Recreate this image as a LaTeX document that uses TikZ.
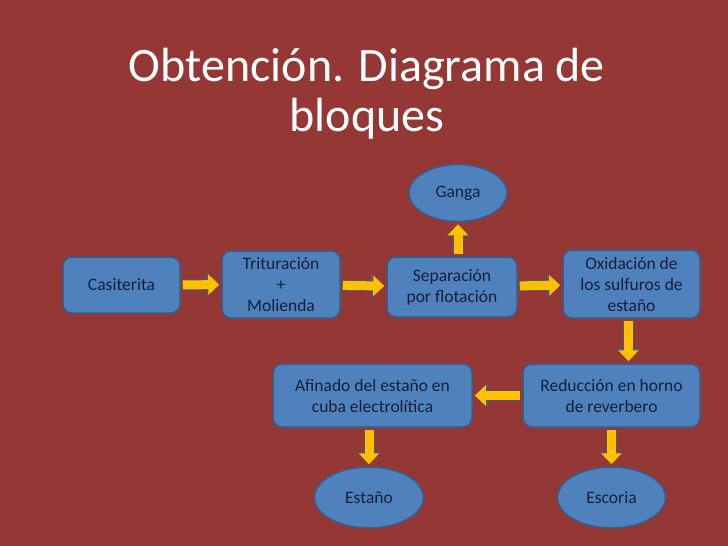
\documentclass[tikz,border=0pt]{standalone}
\usepackage{fontspec}
\setmainfont{Carlito}
\usepackage{tikz}
\usepackage{xcolor}
\usetikzlibrary{shapes.geometric, arrows.meta, positioning, calc}
\definecolor{SlideRed}{HTML}{953735}
\definecolor{BoxBlue}{HTML}{4F81BD}
\definecolor{BoxEdge}{HTML}{385D8A}
\definecolor{ArrowGold}{HTML}{FFC000}
\definecolor{ArrowEdge}{HTML}{4A5A78}
\definecolor{TextNavy}{HTML}{14203A}
\tikzset{
    % Box styles - rounded corners
    procbox/.style={
        rectangle,
        rounded corners=9pt,
        draw=BoxEdge,
        fill=BoxBlue,
        line width=1.5pt,
        align=center,
        inner sep=2pt,
        text=TextNavy,
        font=\fontsize{17.5}{21}\selectfont
    },
    outbox/.style={
        ellipse,
        draw=BoxEdge,
        fill=BoxBlue,
        line width=1.5pt,
        inner sep=0pt,
        align=center,
        text=TextNavy,
        font=\fontsize{17.5}{21}\selectfont
    },
    % Arrow style - thick yellow block arrows
    blockarrow/.style={
        -{Triangle[length=11pt,width=20pt]},
        line width=9pt,
        draw=ArrowGold,
        preaction={draw=ArrowEdge, line width=11pt,
            -{Triangle[length=13pt,width=23pt]}},
        shorten <=2pt,
        shorten >=2pt
    }
}
\begin{document}
\begin{tikzpicture}[x=1pt, y=-1pt]
    % Background
    \fill[SlideRed] (0,0) rectangle (728,546);
    \useasboundingbox (0,0) rectangle (728,546);

    % Title
    \node[text=white, font=\fontsize{48}{50}\selectfont, align=center] (title) at (367,94)
        {Obtención. Diagrama de\\bloques};

    % Top row
    \node[procbox, minimum width=117pt, minimum height=56pt] (casit) at (121.5,285) {Casiterita};
    \node[procbox, minimum width=118pt, minimum height=67pt] (tritu) at (281,284.5) {Trituración\\+\\Molienda};
    \node[procbox, minimum width=130pt, minimum height=60pt] (separ) at (452,287) {Separación\\por flotación};
    \node[procbox, minimum width=137pt, minimum height=68pt] (oxida) at (631.5,284) {Oxidación de\\los sulfuros de\\estaño};
    \node[outbox, minimum width=98pt, minimum height=57pt] (ganga) at (458,193) {Ganga};

    % Bottom row
    \node[procbox, minimum width=199pt, minimum height=63pt] (afina) at (372.5,395.5) {Afinado del estaño en\\cuba electrolítica};
    \node[procbox, minimum width=177pt, minimum height=63pt] (reduc) at (611.5,395.5) {Reducción en horno\\de reverbero};
    \node[outbox, minimum width=109pt, minimum height=61pt] (estan) at (369,497.5) {Estaño};
    \node[outbox, minimum width=108pt, minimum height=61pt] (escor) at (611.5,497.5) {Escoria};

    % Arrows
    \draw[blockarrow] (casit) -- (tritu);
    \draw[blockarrow] (tritu) -- (separ);
    \draw[blockarrow] (separ) -- (oxida);
    \draw[blockarrow] (ganga.south |- separ.north) -- (ganga.south);
    \draw[blockarrow] ($(oxida.south)+(-3,0)$) -- ($(oxida.south |- reduc.north)+(-3,0)$);
    \draw[blockarrow] (reduc) -- (afina);
    \draw[blockarrow] (estan.north |- afina.south) -- (estan.north);
    \draw[blockarrow] (escor.north |- reduc.south) -- (escor.north);
\end{tikzpicture}
\end{document}
